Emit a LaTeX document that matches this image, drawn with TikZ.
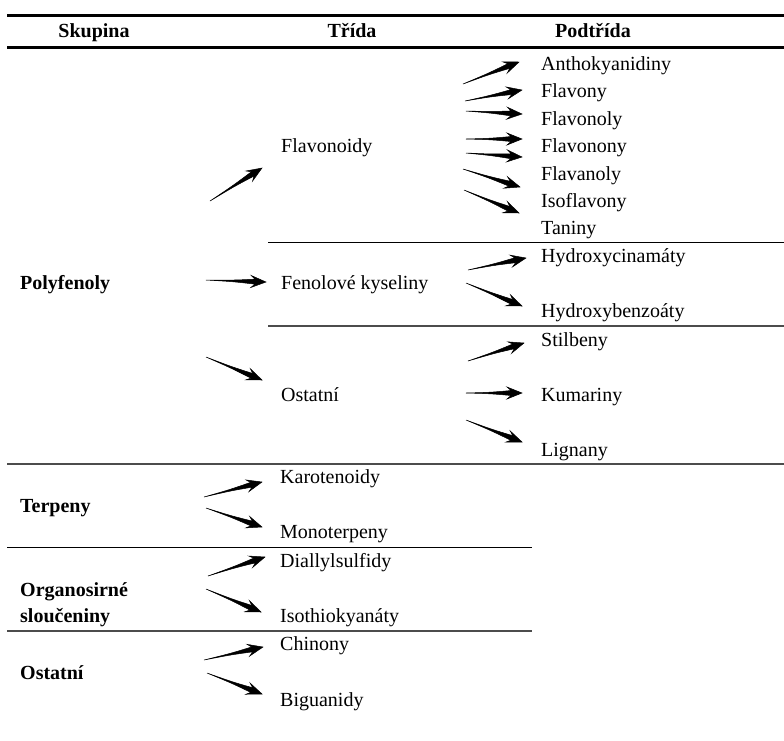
\documentclass[tikz,border=0pt]{standalone}
\usepackage{fontspec}
\setmainfont{Liberation Serif}
\usetikzlibrary{calc}
\tikzset{
  txt/.style={anchor=base west, inner sep=0pt, font=\fontsize{20}{24}\selectfont},
  grp/.style={anchor=base west, inner sep=0pt, font=\fontsize{20}{24}\selectfont\bfseries},
  hdr/.style={anchor=base, inner sep=0pt, font=\fontsize{20}{24}\selectfont\bfseries},
  heavyrule/.style={line width=2.8pt},
  lightrule/.style={line width=1pt},
  greyrule/.style={line width=1.1pt, black!70},
  tipfill/.style={fill=black, draw=black, line width=0.5pt, line join=miter}
}
\newcommand\taparrow[2]{%
  \filldraw[tipfill] (#1) .. controls ($(#1)!0.45!(#2)!0.7pt!90:(#2)$) .. ($(#2)!11pt!(#1)!2.5pt!90:(#2)$)
    -- ($(#2)!15pt!(#1)!6pt!90:(#2)$) -- (#2)
    -- ($(#2)!15pt!(#1)!6pt!-90:(#2)$)
    -- ($(#2)!11pt!(#1)!2.5pt!-90:(#2)$) .. controls ($(#1)!0.45!(#2)!0.7pt!-90:(#2)$) .. (#1) -- cycle;
}
\begin{document}
\begin{tikzpicture}[x=1pt,y=-1pt]
\useasboundingbox (0,0) rectangle (784,740);
% rules
\coordinate (r1a) at (7,15.5);   \coordinate (r1b) at (784,15.5);
\coordinate (r2a) at (7,47.5);   \coordinate (r2b) at (784,47.5);
\coordinate (r3a) at (268,242); \coordinate (r3b) at (784,242);
\coordinate (r4a) at (268,326); \coordinate (r4b) at (784,326);
\coordinate (r5a) at (7,464);  \coordinate (r5b) at (784,464);
\coordinate (r6a) at (7,547);  \coordinate (r6b) at (532,547);
\coordinate (r7a) at (7,631);  \coordinate (r7b) at (532,631);
\draw[heavyrule] (r1a) -- (r1b);
\draw[heavyrule] (r2a) -- (r2b);
\draw[lightrule] (r3a) -- (r3b);
\draw[greyrule] (r4a) -- (r4b);
\draw[greyrule] (r5a) -- (r5b);
\draw[lightrule] (r6a) -- (r6b);
\draw[greyrule] (r7a) -- (r7b);
% header
\node[hdr] (h1) at (94,37) {Skupina};
\node[hdr] (h2) at (352,37) {Třída};
\node[hdr] (h3) at (593,37) {Podtřída};
% groups
\node[grp] (g1) at (20,289) {Polyfenoly};
\node[grp] (g2) at (20,512) {Terpeny};
\node[grp] (g3) at (20,596) {Organosirné};
\node[grp] (g3b) at (20,622) {sloučeniny};
\node[grp] (g4) at (20,679) {Ostatní};
% classes
\node[txt] (c1) at (281,152) {Flavonoidy};
\node[txt] (c2) at (281,289) {Fenolové kyseliny};
\node[txt] (c3) at (281,401) {Ostatní};
\node[txt] (c4) at (280,483) {Karotenoidy};
\node[txt] (c5) at (280,538) {Monoterpeny};
\node[txt] (c6) at (280,567) {Diallylsulfidy};
\node[txt] (c7) at (280,622) {Isothiokyanáty};
\node[txt] (c8) at (280,650) {Chinony};
\node[txt] (c9) at (280,706) {Biguanidy};
% subclasses
\node[txt] (s1) at (541,70.5) {Anthokyanidiny};
\node[txt] (s2) at (541,97.9) {Flavony};
\node[txt] (s3) at (541,125.3) {Flavonoly};
\node[txt] (s4) at (541,152.7) {Flavonony};
\node[txt] (s5) at (541,180.1) {Flavanoly};
\node[txt] (s6) at (541,207.5) {Isoflavony};
\node[txt] (s7) at (541,234.9) {Taniny};
\node[txt] (s8) at (541,262) {Hydroxycinamáty};
\node[txt] (s9) at (541,317) {Hydroxybenzoáty};
\node[txt] (s10) at (541,346) {Stilbeny};
\node[txt] (s11) at (541,401) {Kumariny};
\node[txt] (s12) at (541,456) {Lignany};
% arrow end points
\coordinate (a1t) at (210,201); \coordinate (a1h) at (262,168);
\coordinate (a2t) at (206,280); \coordinate (a2h) at (266,282);
\coordinate (a3t) at (206,357); \coordinate (a3h) at (262,380);
\coordinate (b1t) at (463,84);  \coordinate (b1h) at (519,62);
\coordinate (b2t) at (465,101); \coordinate (b2h) at (522,90);
\coordinate (b3t) at (466,111); \coordinate (b3h) at (522,114);
\coordinate (b4t) at (466,139); \coordinate (b4h) at (522,139);
\coordinate (b5t) at (466,153); \coordinate (b5h) at (522,157);
\coordinate (b6t) at (463,169); \coordinate (b6h) at (520,187);
\coordinate (b7t) at (464,190); \coordinate (b7h) at (519,213);
\coordinate (d1t) at (468,270); \coordinate (d1h) at (526,258);
\coordinate (d2t) at (466,283); \coordinate (d2h) at (522,306);
\coordinate (e1t) at (468,361); \coordinate (e1h) at (524,343);
\coordinate (e2t) at (466,393); \coordinate (e2h) at (522,393);
\coordinate (e3t) at (466,420); \coordinate (e3h) at (522,442);
\coordinate (f1t) at (204,497); \coordinate (f1h) at (262,482);
\coordinate (f2t) at (206,508); \coordinate (f2h) at (262,527);
\coordinate (f3t) at (208,576); \coordinate (f3h) at (265,557);
\coordinate (f4t) at (206,589); \coordinate (f4h) at (261,612);
\coordinate (f5t) at (204,660); \coordinate (f5h) at (263,647);
\coordinate (f6t) at (207,673); \coordinate (f6h) at (262,694);
\foreach \n in {a1,a2,a3,b1,b2,b3,b4,b5,b6,b7,d1,d2,e1,e2,e3,f1,f2,f3,f4,f5,f6}{
  \taparrow{\n t}{\n h}
}
\end{tikzpicture}
\end{document}
